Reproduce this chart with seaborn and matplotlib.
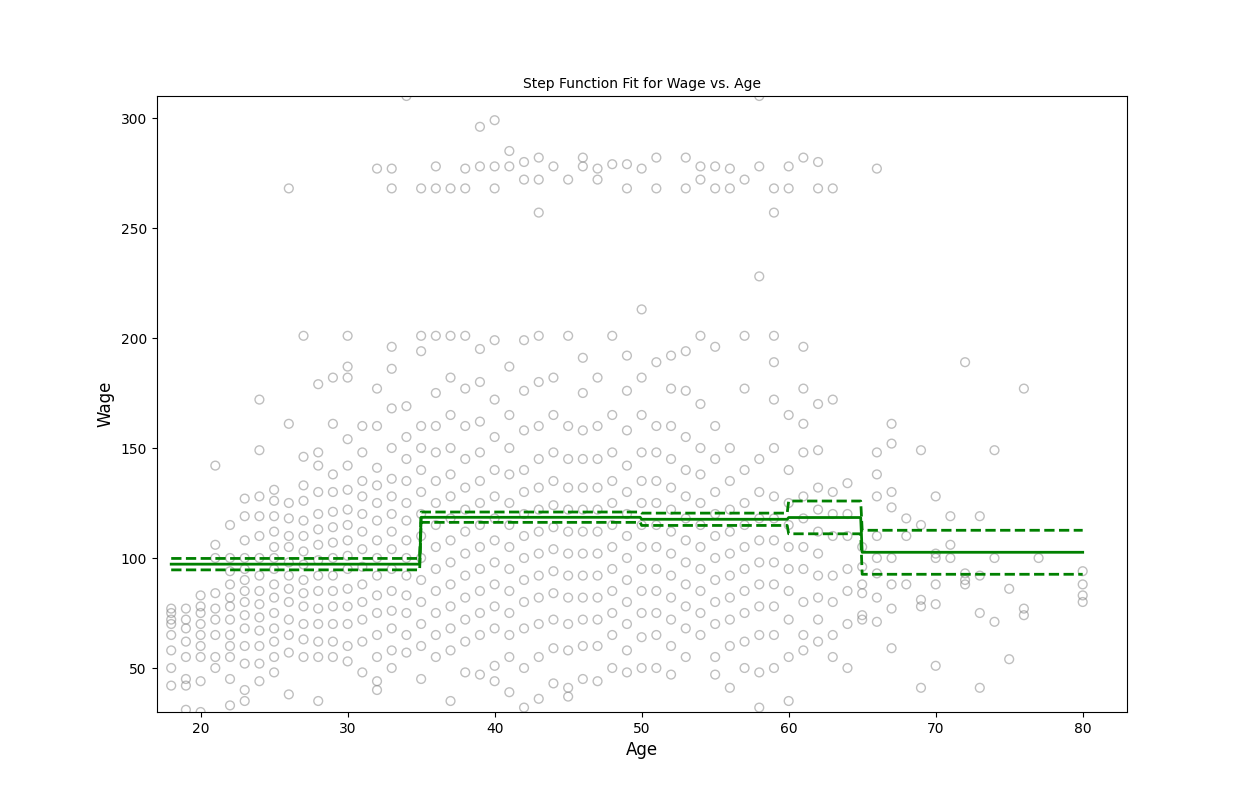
import numpy as np
import pandas as pd
import matplotlib
matplotlib.use("Agg")
import matplotlib.pyplot as plt
import seaborn as sns

# wage readings per age (approximate)
wages_young = {
    18: [42, 50, 58, 65, 70, 72, 75, 77],
    19: [31, 42, 45, 55, 62, 68, 72, 77],
    20: [30, 44, 55, 60, 65, 70, 75, 78, 83],
    21: [50, 55, 65, 72, 77, 84, 100, 106, 142],
    22: [33, 45, 55, 60, 65, 72, 78, 82, 88, 94, 100, 115],
    23: [35, 40, 52, 60, 68, 74, 80, 85, 90, 95, 100, 108, 119, 127],
    24: [44, 52, 60, 67, 73, 79, 85, 92, 100, 110, 119, 128, 149, 172],
    25: [48, 55, 62, 68, 75, 82, 88, 95, 100, 105, 112, 119, 126, 131],
    26: [38, 57, 65, 72, 80, 86, 92, 98, 105, 110, 118, 125, 161, 268],
    27: [55, 63, 70, 78, 84, 90, 97, 103, 110, 117, 126, 133, 146, 201],
    28: [35, 55, 62, 70, 77, 85, 92, 99, 106, 113, 120, 130, 142, 148, 179],
    29: [55, 62, 70, 78, 85, 92, 100, 107, 114, 121, 130, 138, 161, 182],
    30: [53, 60, 70, 78, 86, 95, 101, 108, 115, 122, 131, 142, 154, 182, 187, 201],
    31: [48, 62, 72, 80, 88, 96, 104, 112, 120, 128, 135, 148, 160],
    32: [40, 44, 55, 65, 75, 83, 92, 100, 108, 117, 125, 133, 141, 160, 177, 277],
    33: [50, 58, 68, 76, 85, 95, 104, 112, 120, 128, 136, 150, 168, 186, 196, 268, 277],
    34: [57, 65, 75, 83, 92, 100, 108, 117, 125, 135, 145, 155, 169, 310],
}
wages_mid = {
    35: [45, 60, 70, 80, 90, 100, 110, 120, 130, 140, 150, 160, 194, 201, 268],
    36: [55, 65, 75, 85, 95, 105, 115, 125, 135, 148, 160, 175, 201, 268, 278],
    37: [35, 58, 68, 78, 88, 98, 108, 118, 128, 138, 150, 165, 182, 201, 268],
    38: [48, 62, 72, 82, 92, 102, 112, 122, 132, 145, 160, 177, 201, 268, 277],
    39: [47, 65, 75, 85, 95, 105, 115, 125, 135, 148, 162, 180, 195, 278, 296],
    40: [44, 51, 68, 78, 88, 98, 108, 118, 128, 140, 155, 172, 199, 268, 278, 299],
    41: [39, 55, 65, 75, 85, 95, 105, 115, 125, 138, 150, 165, 187, 278, 285],
    42: [32, 50, 68, 80, 90, 100, 110, 120, 130, 140, 158, 176, 199, 272, 280],
    43: [36, 55, 70, 82, 92, 102, 112, 122, 132, 145, 160, 180, 201, 257, 272, 282],
    44: [43, 59, 72, 84, 94, 104, 114, 124, 135, 148, 165, 182, 278],
    45: [37, 41, 58, 70, 82, 92, 102, 112, 122, 132, 145, 160, 201, 272],
    46: [45, 60, 72, 82, 92, 102, 112, 122, 132, 145, 158, 175, 191, 278, 282],
    47: [44, 60, 72, 82, 92, 102, 112, 122, 132, 145, 160, 182, 272, 277],
    48: [50, 65, 75, 85, 95, 105, 115, 125, 135, 148, 165, 201, 279],
    49: [48, 58, 70, 80, 90, 100, 110, 120, 130, 142, 158, 176, 192, 268, 279],
    50: [50, 64, 75, 85, 95, 105, 115, 125, 135, 148, 165, 182, 213, 277],
    51: [50, 65, 75, 85, 95, 105, 115, 125, 135, 148, 160, 189, 268, 282],
    52: [47, 60, 72, 82, 92, 102, 112, 122, 132, 145, 160, 177, 192],
    53: [55, 68, 78, 88, 98, 108, 118, 128, 140, 155, 176, 194, 268, 282],
}
wages_old = {
    54: [65, 75, 85, 95, 105, 115, 125, 138, 150, 170, 201, 272, 278],
    55: [47, 55, 70, 80, 90, 100, 110, 120, 130, 145, 160, 196, 268, 278],
    56: [41, 60, 72, 82, 92, 102, 112, 122, 135, 150, 268, 277],
    57: [50, 62, 75, 85, 95, 105, 115, 125, 140, 177, 201, 272],
    58: [32, 48, 65, 78, 88, 98, 108, 118, 130, 145, 228, 278, 310],
    59: [50, 65, 78, 88, 98, 108, 118, 128, 150, 172, 189, 201, 257, 268],
    60: [35, 55, 72, 85, 95, 105, 115, 125, 140, 165, 268, 278],
    61: [58, 65, 80, 95, 105, 118, 128, 148, 161, 177, 196, 282],
    62: [62, 72, 82, 92, 102, 112, 122, 132, 149, 170, 268, 280],
    63: [55, 65, 80, 92, 110, 120, 130, 172, 268],
    64: [50, 70, 85, 95, 110, 120, 134],
    65: [72, 74, 84, 88, 96, 105],
    66: [71, 82, 93, 100, 110, 128, 138, 148, 277],
    67: [59, 77, 88, 100, 123, 130, 152, 161],
    68: [88, 110, 118],
    69: [41, 78, 81, 115, 149],
    70: [51, 79, 88, 100, 102, 128],
    71: [100, 106, 119],
    72: [88, 90, 93, 189],
    73: [41, 75, 92, 119],
    74: [71, 100, 149],
    75: [54, 86],
    76: [74, 77, 177],
    77: [100],
    80: [80, 83, 88, 94],
}

# step function fit: bin edges, fitted values and 95% band
bin_edges = [18, 35, 50, 60, 65, 80]
fit_vals = [97.2, 118.5, 117.6, 118.4, 102.6]
ci_low = [94.6, 116.2, 114.8, 111.0, 92.6]
ci_high = [99.8, 120.9, 120.4, 125.9, 112.6]

rows = []
for d in (wages_young, wages_mid, wages_old):
    for a, ws in d.items():
        rows += [(a, w) for w in ws]
df = pd.DataFrame(rows, columns=["age", "wage"])

grid = np.linspace(18, 80, 621)
idx = np.clip(np.searchsorted(bin_edges, grid, side="right") - 1, 0, len(fit_vals) - 1)
fit = pd.DataFrame({"age": grid,
                    "fit": np.array(fit_vals)[idx],
                    "lo": np.array(ci_low)[idx],
                    "hi": np.array(ci_high)[idx]})

fig, ax = plt.subplots(figsize=(12.52, 8), dpi=100)
sns.scatterplot(data=df, x="age", y="wage", ax=ax, facecolor="none",
                edgecolor="gray", alpha=0.5, s=40, linewidth=1)
sns.lineplot(data=fit, x="age", y="fit", ax=ax, color="green", linewidth=2)
sns.lineplot(data=fit, x="age", y="lo", ax=ax, color="green", linewidth=2, linestyle="--")
sns.lineplot(data=fit, x="age", y="hi", ax=ax, color="green", linewidth=2, linestyle="--")

ax.set_xlim(15, 83)
ax.set_ylim(30, 310)
ax.set_xlim(17, 83)
ax.set_title("Step Function Fit for Wage vs. Age", fontsize=10)
ax.set_xlabel("Age", fontsize=12)
ax.set_ylabel("Wage", fontsize=12)
fig.savefig("out.png")
